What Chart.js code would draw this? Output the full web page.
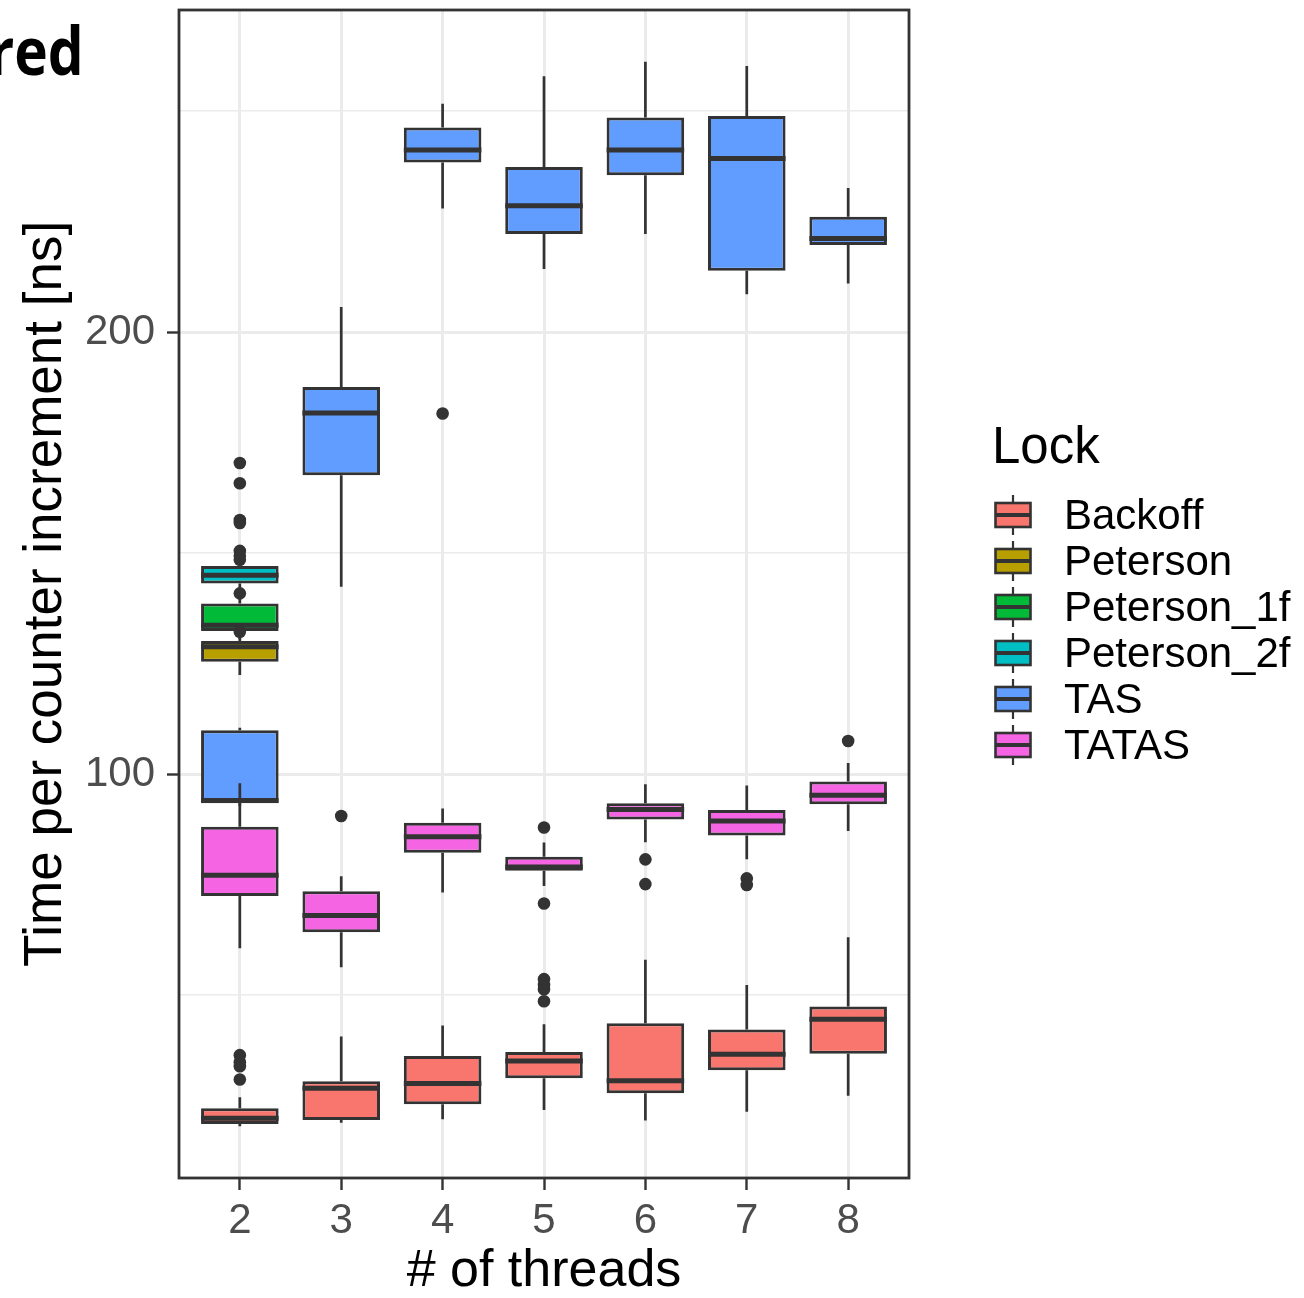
<!DOCTYPE html>
<html>
<head>
<meta charset="utf-8">
<script src="https://cdn.jsdelivr.net/npm/chart.js@4/dist/chart.umd.min.js"></script>
<style>
  html, body { margin: 0; padding: 0; background: #ffffff; }
  #wrap { position: relative; width: 1304px; height: 1298px; overflow: hidden; background: #fff; }
  #c { position: absolute; left: 0; top: 0; }
  .txt { position: absolute; font-family: "Liberation Sans", Arial, sans-serif; color: #000; white-space: nowrap; }
  #head { font-family: "Open Sans", sans-serif; font-weight: 700; font-size: 66px; line-height: 66px;
          right: 1220px; top: 16px; transform: scaleX(0.86); transform-origin: right center; }
  #ltitle { left: 992px; top: 420px; font-size: 51px; line-height: 51px; }
  .row { position: absolute; left: 992px; height: 46px; }
  .row canvas { position: absolute; left: 0; top: 0; }
  .row span { position: absolute; left: 72px; top: 0; font-family: "Liberation Sans", Arial, sans-serif;
              font-size: 42px; line-height: 46px; color: #000; white-space: nowrap; }
</style>
</head>
<body>
<div id="wrap">
  <canvas id="c" width="1304" height="1298"></canvas>
  <div id="head" class="txt">red</div>
  <div id="ltitle" class="txt">Lock</div>
  <div id="legend"></div>
</div>
<script>
// ---------------- data ----------------
const threads = [2, 3, 4, 5, 6, 7, 8];
const locks = ['Backoff', 'Peterson', 'Peterson_1f', 'Peterson_2f', 'TAS', 'TATAS'];
const yGridValues = [50, 100, 150, 200, 250];
const yLabelValues = [100, 200];

// per thread count: [lower whisker, Q1, median, Q3, upper whisker]; null = no data
const backoff = [
  [20.3, 20.8, 22.1, 24.4, 26.9],
  [21.1, 21.7, 28.9, 30.5, 40.6],
  [21.9, 25.3, 30.0, 36.2, 43.1],
  [24.0, 31.2, 35.1, 37.1, 43.4],
  [21.6, 27.8, 30.6, 43.6, 58.0],
  [23.6, 33.0, 36.6, 42.2, 52.3],
  [27.2, 36.7, 44.5, 47.4, 63.1]
];
const peterson = [[122.4, 125.4, 128.8, 130.1, 131.5], null, null, null, null, null, null];
const peterson1f = [[130.5, 132.4, 133.7, 138.6, 142.0], null, null, null, null, null, null];
const peterson2f = [[139.5, 143.1, 145.0, 147.1, 147.8], null, null, null, null, null, null];
const tas = [
  [92.8, 93.4, 94.0, 109.9, 110.5],
  [142.4, 167.6, 181.7, 187.6, 205.7],
  [228.0, 238.4, 241.2, 246.3, 251.7],
  [214.3, 222.2, 228.6, 237.4, 257.9],
  [222.2, 235.5, 241.2, 248.6, 261.2],
  [208.6, 213.9, 239.3, 248.9, 260.2],
  [211.0, 219.7, 221.2, 226.1, 232.6]
];
const tatas = [
  [60.6, 72.4, 77.1, 88.1, 97.9],
  [56.3, 64.2, 68.0, 73.5, 76.9],
  [73.2, 82.2, 85.8, 89.0, 92.2],
  [74.7, 78.1, 79.0, 81.3, 84.5],
  [84.6, 89.7, 92.0, 93.4, 97.7],
  [80.7, 86.1, 89.4, 91.9, 97.4],
  [87.1, 93.2, 95.2, 98.3, 102.5]
];

// outliers: [thread count, value]
const backoffOutliers = [[2, 30.9], [2, 33.9], [2, 34.8], [2, 36.4], [5, 48.6], [5, 51.3], [5, 52.3], [5, 53.6]];
const petersonOutliers = [[2, 140.9]];
const peterson1fOutliers = [];
const peterson2fOutliers = [[2, 170.4], [2, 165.8], [2, 157.5], [2, 156.8], [2, 150.5], [2, 149.4], [2, 148.5], [2, 132.2]];
const tasOutliers = [[4, 181.6]];
const tatasOutliers = [[3, 90.5], [5, 87.9], [5, 70.7], [6, 80.7], [6, 75.1], [7, 76.4], [7, 74.9], [8, 107.5]];

// ---------------- styles ----------------
const fills = ['#F8766D', '#B79F00', '#00BA38', '#00BFC4', '#619CFF', '#F564E3'];
const INK = '#333333';
const FONT = '"Liberation Sans", Arial, sans-serif';
const LW = 3;

const seriesStats = [backoff, peterson, peterson1f, peterson2f, tas, tatas];
const seriesOutliers = [backoffOutliers, petersonOutliers, peterson1fOutliers, peterson2fOutliers, tasOutliers, tatasOutliers];

const datasets = locks.map((name, i) => {
  const pts = [];
  threads.forEach((t, j) => {
    const s = seriesStats[i][j];
    if (s) pts.push({ x: t, y: [s[1], s[3]], s: s });
  });
  return {
    type: 'bar',
    label: name,
    data: pts,
    backgroundColor: fills[i],
    borderColor: INK,
    borderWidth: LW,
    borderSkipped: false,
    grouped: false,
    barPercentage: 0.765,
    categoryPercentage: 1,
    order: locks.length - i,
    isBox: true
  };
});
const outlierPoints = [];
seriesOutliers.forEach(arr => arr.forEach(([t, v]) => outlierPoints.push({ x: t, y: v })));
datasets.push({
  type: 'scatter',
  label: 'outliers',
  data: outlierPoints,
  pointRadius: 6.3,
  pointHoverRadius: 6.3,
  pointBackgroundColor: INK,
  pointBorderWidth: 0,
  borderWidth: 0,
  order: 0
});

const boxParts = {
  id: 'boxParts',
  beforeDatasetDraw(chart, args) {
    const ds = chart.data.datasets[args.index];
    if (!ds.isBox) return;
    const ctx = chart.ctx, ys = chart.scales.y;
    ctx.save();
    ctx.strokeStyle = INK; ctx.lineWidth = 2.7; ctx.lineCap = 'butt';
    args.meta.data.forEach((bar, j) => {
      const s = ds.data[j].s;
      ctx.beginPath();
      ctx.moveTo(bar.x, ys.getPixelForValue(s[4])); ctx.lineTo(bar.x, ys.getPixelForValue(s[3]));
      ctx.moveTo(bar.x, ys.getPixelForValue(s[1])); ctx.lineTo(bar.x, ys.getPixelForValue(s[0]));
      ctx.stroke();
    });
    ctx.restore();
  },
  afterDatasetDraw(chart, args) {
    const ds = chart.data.datasets[args.index];
    if (!ds.isBox) return;
    const ctx = chart.ctx, ys = chart.scales.y;
    ctx.save();
    ctx.strokeStyle = INK; ctx.lineWidth = 5; ctx.lineCap = 'butt';
    args.meta.data.forEach((bar, j) => {
      const s = ds.data[j].s;
      const py = ys.getPixelForValue(s[2]);
      ctx.beginPath();
      ctx.moveTo(bar.x - bar.width / 2, py); ctx.lineTo(bar.x + bar.width / 2, py);
      ctx.stroke();
    });
    ctx.restore();
  },
  afterDatasetsDraw(chart) {
    const a = chart.chartArea, ctx = chart.ctx;
    ctx.save();
    ctx.strokeStyle = INK; ctx.lineWidth = 2.8;
    ctx.strokeRect(a.left, a.top, a.right - a.left, a.bottom - a.top);
    ctx.restore();
  }
};

new Chart(document.getElementById('c'), {
  type: 'bar',
  data: { datasets: datasets },
  plugins: [boxParts],
  options: {
    responsive: false,
    devicePixelRatio: 1,
    animation: false,
    events: [],
    layout: { padding: { top: 10, right: 395, left: 0, bottom: 0 } },
    plugins: { legend: { display: false }, tooltip: { enabled: false } },
    scales: {
      x: {
        type: 'linear',
        min: 1.4, max: 8.6,
        offset: false,
        afterBuildTicks: axis => { axis.ticks = threads.map(v => ({ value: v })); },
        afterFit: s => { s.height = 120; s.paddingLeft = 0; s.paddingRight = 0; },
        grid: { offset: false, color: '#EBEBEB', lineWidth: 3, drawTicks: true, tickLength: 12, tickColor: INK, tickWidth: 2.4 },
        border: { display: false },
        ticks: { autoSkip: false, maxRotation: 0, padding: 6, color: '#4D4D4D', font: { family: FONT, size: 42 },
                 callback: v => String(v) },
        title: { display: true, text: '# of threads', color: '#000', font: { family: FONT, size: 52, lineHeight: 1 },
                 padding: { top: 0, bottom: 0 } }
      },
      y: {
        type: 'linear',
        min: 8.6, max: 272.9,
        afterBuildTicks: axis => { axis.ticks = yGridValues.map(v => ({ value: v })); },
        afterFit: s => { s.width = 179; s.paddingTop = 0; s.paddingBottom = 0; },
        grid: {
          color: '#EBEBEB',
          lineWidth: c => (yLabelValues.includes(c.tick && c.tick.value) ? 3 : 1.5),
          drawTicks: true, tickLength: 12,
          tickColor: c => (yLabelValues.includes(c.tick && c.tick.value) ? INK : 'rgba(0,0,0,0)'),
          tickWidth: 2.4
        },
        border: { display: false },
        ticks: { autoSkip: false, padding: 12, color: '#4D4D4D', font: { family: FONT, size: 42 },
                 callback: v => (yLabelValues.includes(v) ? String(v) : '') },
        title: { display: true, text: 'Time per counter increment [ns]', color: '#000',
                 font: { family: FONT, size: 53, lineHeight: 1.2 }, padding: { top: 15, bottom: 0 } }
      }
    }
  }
});

// ---------------- legend (ggplot-style keys) ----------------
const legend = document.getElementById('legend');
locks.forEach((name, i) => {
  const row = document.createElement('div');
  row.className = 'row';
  row.style.top = (492 + i * 46) + 'px';
  const cv = document.createElement('canvas');
  cv.width = 44; cv.height = 46;
  const c = cv.getContext('2d');
  c.strokeStyle = INK; c.lineWidth = 2.2;
  c.beginPath(); c.moveTo(21, 3); c.lineTo(21, 43); c.stroke();
  c.fillStyle = fills[i];
  c.fillRect(3.5, 11, 35, 24);
  c.lineWidth = 2.6;
  c.strokeRect(3.5, 11, 35, 24);
  c.lineWidth = 4;
  c.beginPath(); c.moveTo(3.5, 23); c.lineTo(38.5, 23); c.stroke();
  const sp = document.createElement('span');
  sp.textContent = name;
  row.appendChild(cv); row.appendChild(sp);
  legend.appendChild(row);
});
</script>
</body>
</html>
